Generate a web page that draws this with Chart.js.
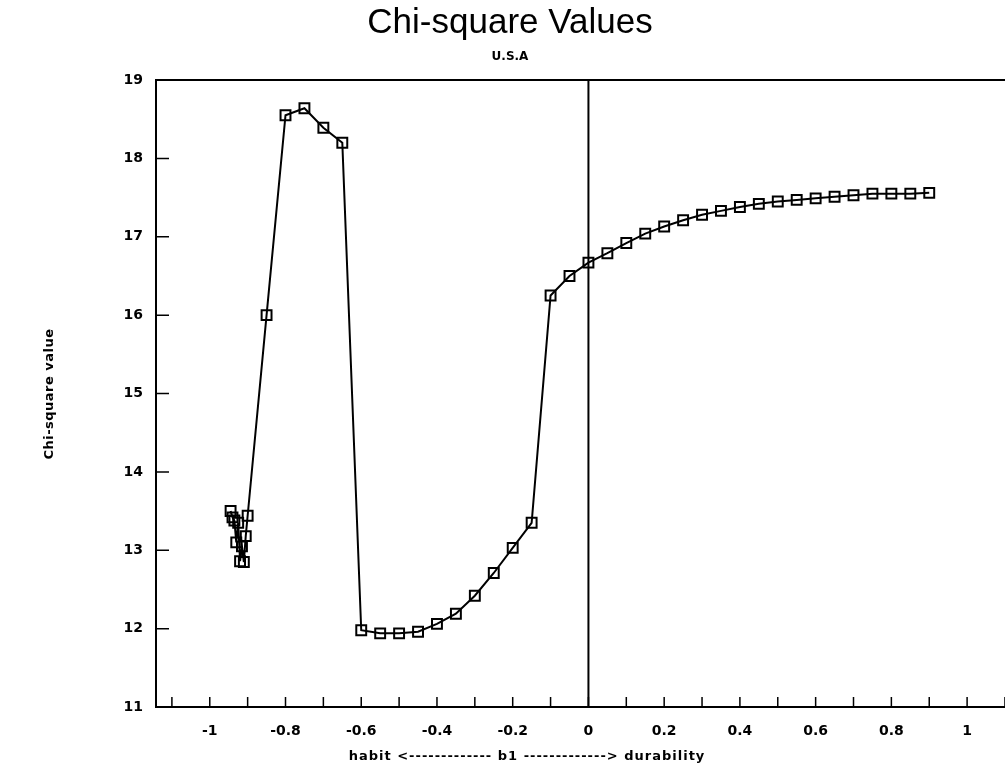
<!DOCTYPE html>
<html lang="en">
<head>
  <meta charset="UTF-8">
  <title>Chi-square Values</title>
  <script src="https://cdn.jsdelivr.net/npm/chart.js"></script>
  <style>
    body {
      margin: 0;
      background: white;
      overflow: hidden;
    }

    /* a bit wider than the window so the plot runs off the right edge, as in the scan */
    .wrap {
      position: relative;
      width: 1021px;
      height: 784px;
    }
  </style>
</head>
<body>
  <div class="wrap">
    <canvas id="chart"></canvas>
  </div>
  <script>
    // b1 values and chi-square values
    const b1Values = [
      -0.945, -0.94, -0.935, -0.93, -0.925, -0.92, -0.915, -0.91, -0.905, -0.9,
      -0.85, -0.8, -0.75, -0.7, -0.65, -0.6, -0.55, -0.5, -0.45, -0.4,
      -0.35, -0.3, -0.25, -0.2, -0.15, -0.1, -0.05, 0, 0.05, 0.1,
      0.15, 0.2, 0.25, 0.3, 0.35, 0.4, 0.45, 0.5, 0.55, 0.6,
      0.65, 0.7, 0.75, 0.8, 0.85, 0.9
    ];
    const chiValues = [
      13.50, 13.42, 13.38, 13.10, 13.35, 12.86, 13.05, 12.85, 13.18, 13.44,
      16.00, 18.55, 18.64, 18.39, 18.20, 11.98, 11.94, 11.94, 11.96, 12.06,
      12.19, 12.42, 12.71, 13.03, 13.35, 16.25, 16.50, 16.67, 16.79, 16.92,
      17.04, 17.13, 17.21, 17.28, 17.33, 17.38, 17.42, 17.45, 17.47, 17.49,
      17.51, 17.53, 17.55, 17.55, 17.55, 17.56
    ];

    const xTickValues = [
      -1.1, -1.0, -0.9, -0.8, -0.7, -0.6, -0.5, -0.4, -0.3, -0.2, -0.1,
      0, 0.1, 0.2, 0.3, 0.4, 0.5, 0.6, 0.7, 0.8, 0.9, 1.0, 1.1
    ];
    const xLabelValues = [-1, -0.8, -0.6, -0.4, -0.2, 0, 0.2, 0.4, 0.6, 0.8, 1];
    const xLabelTexts = ['-1', '-0.8', '-0.6', '-0.4', '-0.2', '0', '0.2', '0.4', '0.6', '0.8', '1'];
    const yTickValues = [11, 12, 13, 14, 15, 16, 17, 18, 19];

    const points = b1Values.map((b, i) => ({ x: b, y: chiValues[i] }));

    const boldFont = '"DejaVu Sans", sans-serif';

    // axes frame, inward ticks, zero line and the text around the plot
    const framePlugin = {
      id: 'frame',
      beforeDatasetsDraw(chart) {
        const { ctx, chartArea: a, scales: { x, y } } = chart;
        ctx.save();
        ctx.strokeStyle = '#000';
        ctx.lineWidth = 2;
        ctx.beginPath();
        ctx.moveTo(a.right, a.top);
        ctx.lineTo(a.left, a.top);
        ctx.lineTo(a.left, a.bottom);
        ctx.lineTo(a.right, a.bottom);
        const x0 = x.getPixelForValue(0);
        ctx.moveTo(x0, a.top);
        ctx.lineTo(x0, a.bottom);
        ctx.stroke();

        ctx.lineWidth = 1.5;
        ctx.beginPath();
        x.ticks.forEach(t => {
          const px = x.getPixelForValue(t.value);
          ctx.moveTo(px, a.bottom);
          ctx.lineTo(px, a.bottom - 10);
        });
        y.ticks.forEach(t => {
          const py = y.getPixelForValue(t.value);
          ctx.moveTo(a.left, py);
          ctx.lineTo(a.left + 13, py);
        });
        ctx.stroke();
        ctx.restore();
      },
      afterDraw(chart) {
        const ctx = chart.ctx;
        ctx.save();
        ctx.fillStyle = '#000';
        ctx.textAlign = 'center';
        ctx.textBaseline = 'middle';

        ctx.font = '35px "Liberation Sans", sans-serif';
        ctx.fillText('Chi-square Values', 510, 23);

        ctx.font = 'bold 12px ' + boldFont;
        ctx.fillText('U.S.A', 510, 57);

        ctx.font = 'bold 13px ' + boldFont;
        ctx.letterSpacing = '1px';
        ctx.fillText('habit <------------- b1 -------------> durability', 527, 757);

        ctx.letterSpacing = '0.5px';
        ctx.translate(50, 394);
        ctx.rotate(-Math.PI / 2);
        ctx.fillText('Chi-square value', 0, 0);
        ctx.restore();
      }
    };

    new Chart(document.getElementById('chart'), {
      type: 'scatter',
      data: {
        datasets: [{
          data: points,
          showLine: true,
          borderColor: '#000',
          borderWidth: 2,
          tension: 0,
          pointStyle: 'rect',
          pointRadius: 7,
          pointBorderWidth: 2,
          pointBorderColor: '#000',
          pointBackgroundColor: 'rgba(0,0,0,0)'
        }]
      },
      options: {
        responsive: true,
        maintainAspectRatio: false,
        animation: false,
        layout: { padding: { top: 80, left: 0, right: 0, bottom: 0 } },
        plugins: {
          legend: { display: false },
          title: { display: false },
          tooltip: { enabled: false }
        },
        scales: {
          x: {
            type: 'linear',
            min: -1.142,
            max: 1.107,
            grid: { display: false, drawTicks: false },
            border: { display: false },
            afterBuildTicks: scale => {
              scale.ticks = xTickValues.map(v => ({ value: v }));
            },
            afterFit: scale => { scale.height = 77; },
            ticks: {
              autoSkip: false,
              maxRotation: 0,
              padding: 16,
              color: '#000',
              font: { family: boldFont, size: 14, weight: 'bold' },
              callback: value => {
                const i = xLabelValues.findIndex(v => Math.abs(v - value) < 1e-6);
                return i >= 0 ? xLabelTexts[i] : '';
              }
            }
          },
          y: {
            min: 11,
            max: 19,
            grid: { display: false, drawTicks: false },
            border: { display: false },
            afterBuildTicks: scale => {
              scale.ticks = yTickValues.map(v => ({ value: v }));
            },
            afterFit: scale => { scale.width = 156; },
            ticks: {
              padding: 13,
              color: '#000',
              font: { family: boldFont, size: 14, weight: 'bold' }
            }
          }
        }
      },
      plugins: [framePlugin]
    });
  </script>
</body>
</html>
